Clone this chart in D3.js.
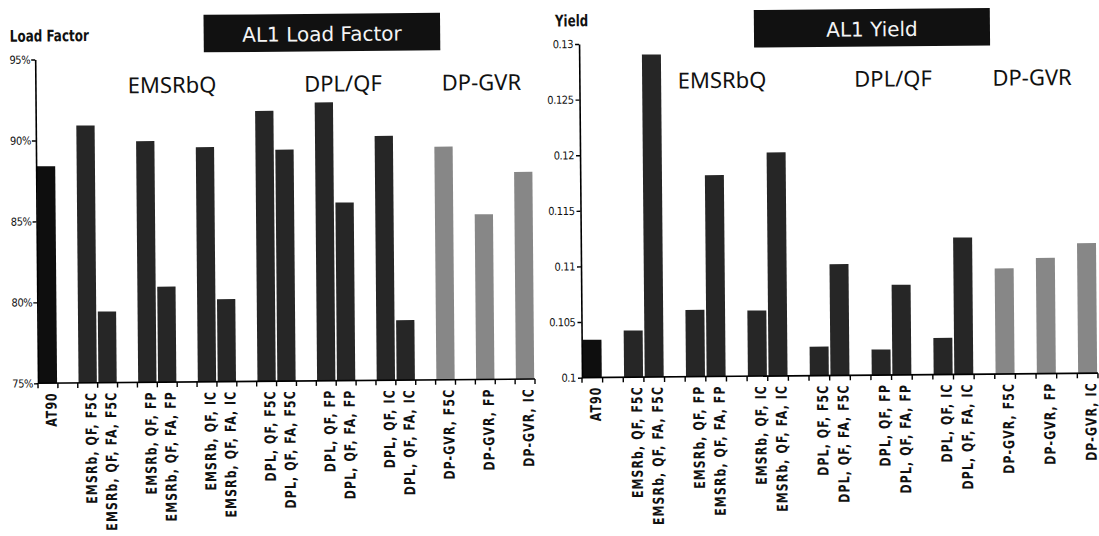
<!DOCTYPE html>
<html>
<head>
<meta charset="utf-8">
<script src="https://cdn.jsdelivr.net/npm/d3@7"></script>
<style>
  html, body { margin: 0; padding: 0; background: #fff; }
  svg { display: block; }
  .tick text { font-family: "Liberation Sans Narrow", "DejaVu Sans Condensed", "Arial Narrow", sans-serif; }
</style>
</head>
<body>
<svg id="chart" width="1099" height="536"></svg>
<script>
// Scenario names, one bar each
const categories = [
  "AT90",
  "EMSRb, QF, F5C", "EMSRb, QF, FA, F5C",
  "EMSRb, QF, FP", "EMSRb, QF, FA, FP",
  "EMSRb, QF, IC", "EMSRb, QF, FA, IC",
  "DPL, QF, F5C", "DPL, QF, FA, F5C",
  "DPL, QF, FP", "DPL, QF, FA, FP",
  "DPL, QF, IC", "DPL, QF, FA, IC",
  "DP-GVR, F5C", "DP-GVR, FP", "DP-GVR, IC"
];
// Bars sharing a cluster id sit side by side; a blank slot separates clusters
const clusterIds = [0, 1, 1, 2, 2, 3, 3, 4, 4, 5, 5, 6, 6, 7, 8, 9];

// Load factor (%) per scenario
const loadFactor = [88.4, 90.9, 79.4, 89.9, 80.9, 89.5, 80.1, 91.7, 89.3, 92.2, 86.0, 90.1, 78.7, 89.4, 85.2, 87.8];
// Yield per scenario
const yieldValues = [0.1034, 0.1042, 0.129, 0.1060, 0.1181, 0.1059, 0.1201, 0.1026, 0.1100, 0.1023, 0.1081, 0.1033, 0.1123, 0.1095, 0.1104, 0.1117];

// Axis ticks
const loadTicks = [95, 90, 85, 80, 75];
const loadTickLabels = ["95%", "90%", "85%", "80%", "75%"];
const yieldTicks = [0.13, 0.125, 0.12, 0.115, 0.11, 0.105, 0.1];
const yieldTickLabels = ["0.13", "0.125", "0.12", "0.115", "0.11", "0.105", "0.1"];

// Method headings above the bars
const methodNames = ["EMSRbQ", "DPL/QF", "DP-GVR"];

// ---------------------------------------------------------------
const svg = d3.select("#chart");

// The whole sheet is tilted very slightly
const sheet = svg.append("g").attr("transform", "rotate(-0.5, 38, 383)");

// Slot domain: insert a blank slot whenever the cluster changes
const slots = [];
categories.forEach((c, i) => {
  if (i > 0 && clusterIds[i] !== clusterIds[i - 1]) slots.push("gap-" + i);
  slots.push(c);
});

function barColor(name) {
  if (name === "AT90") return "#0e0e0e";
  if (name.startsWith("DP-GVR")) return "#878787";
  return "#262626";
}

const narrow = '"Liberation Sans Narrow", "DejaVu Sans Condensed", "Arial Narrow", sans-serif';

function drawPanel(opts) {
  const g = sheet.append("g");
  const x = d3.scaleBand().domain(slots).range(opts.xRange).paddingInner(0.08).paddingOuter(0.04);
  const y = d3.scaleLinear().domain(opts.yDomain).range(opts.yRange);
  const base = opts.yRange[0];

  // bars
  g.selectAll("rect.bar")
    .data(categories.map((c, i) => ({ c, v: opts.values[i] })))
    .join("rect")
    .attr("class", "bar")
    .attr("x", d => x(d.c))
    .attr("width", x.bandwidth())
    .attr("y", d => y(d.v))
    .attr("height", d => base - y(d.v))
    .attr("fill", d => barColor(d.c));

  // y axis
  const labelOf = new Map(opts.ticks.map((t, i) => [t, opts.tickLabels[i]]));
  const ya = g.append("g")
    .attr("transform", `translate(${opts.xRange[0]},0)`)
    .call(d3.axisLeft(y).tickValues(opts.ticks).tickSize(4).tickSizeOuter(0)
      .tickPadding(opts.tickPad).tickFormat(t => labelOf.get(t)));
  ya.select(".domain").attr("stroke", "#000").attr("stroke-width", 1.6);
  ya.selectAll(".tick line").attr("stroke", "#000").attr("stroke-width", 1.4);
  ya.selectAll(".tick text").attr("font-size", 11).attr("fill", "#111")
    .attr("letter-spacing", -0.4);

  // x axis: baseline with ticks on slot boundaries
  const step = x.step();
  const x0 = opts.xRange[0];
  const x1 = opts.xRange[1];
  g.append("line")
    .attr("x1", x0).attr("x2", x1).attr("y1", base).attr("y2", base)
    .attr("stroke", "#000").attr("stroke-width", 1.6);
  g.selectAll("line.xtick")
    .data(d3.range(slots.length + 1))
    .join("line")
    .attr("class", "xtick")
    .attr("x1", i => x0 + i * step).attr("x2", i => x0 + i * step)
    .attr("y1", base).attr("y2", base + 5)
    .attr("stroke", "#000").attr("stroke-width", 1.4);

  // category labels, rotated and squeezed along the reading direction
  const cats = g.selectAll("text.cat")
    .data(categories)
    .join("text")
    .attr("class", "cat")
    .attr("text-anchor", "end")
    .attr("dy", "0.36em")
    .attr("font-family", narrow)
    .attr("font-weight", "bold")
    .attr("font-size", 15)
    .attr("letter-spacing", 1.3)
    .attr("fill", "#111")
    .text(c => c);
  const refNode = cats.filter(c => c === "EMSRb, QF, F5C").node();
  const squeeze = refNode ? 112 / refNode.getComputedTextLength() : 1;
  cats.attr("transform", c =>
    `translate(${x(c) + x.bandwidth() / 2 + 3},${base + 9}) rotate(-90) scale(${squeeze},1)`);

  // axis title
  g.append("text")
    .attr("x", opts.axisTitlePos[0]).attr("y", opts.axisTitlePos[1])
    .attr("font-family", narrow).attr("font-weight", "bold").attr("font-size", 16)
    .attr("fill", "#111")
    .attr("textLength", opts.axisTitleWidth).attr("lengthAdjust", "spacingAndGlyphs")
    .text(opts.axisTitle);

  // title box
  g.append("rect")
    .attr("x", opts.titleBox[0]).attr("y", 16.3)
    .attr("width", opts.titleBox[1] - opts.titleBox[0]).attr("height", 37.5)
    .attr("fill", "#111");
  g.append("text")
    .attr("x", (opts.titleBox[0] + opts.titleBox[1]) / 2).attr("y", 43.6)
    .attr("text-anchor", "middle")
    .attr("font-family", '"DejaVu Sans", sans-serif').attr("font-size", 20)
    .attr("fill", "#f4f4f4")
    .text(opts.title);

  // method headings
  g.selectAll("text.method")
    .data(methodNames)
    .join("text")
    .attr("class", "method")
    .attr("x", (d, i) => opts.methodX[i]).attr("y", 94)
    .attr("text-anchor", "middle")
    .attr("font-family", '"Noto Sans", "Open Sans", sans-serif').attr("font-size", 22)
    .attr("fill", "#111")
    .text(d => d);
}

drawPanel({
  values: loadFactor,
  xRange: [38, 535],
  yDomain: [75, 95],
  yRange: [383.3, 59.5],
  ticks: loadTicks,
  tickLabels: loadTickLabels,
  tickPad: 1,
  axisTitle: "Load Factor",
  axisTitleWidth: 79,
  axisTitlePos: [12.8, 41.5],
  title: "AL1 Load Factor",
  titleBox: [206.7, 443.2],
  methodX: [174.6, 345.6, 484]
});

drawPanel({
  values: yieldValues,
  xRange: [582, 1098],
  yDomain: [0.1, 0.13],
  yRange: [382.4, 48.7],
  ticks: yieldTicks,
  tickLabels: yieldTickLabels,
  tickPad: 2,
  axisTitle: "Yield",
  axisTitleWidth: 33,
  axisTitlePos: [558.2, 31],
  title: "AL1 Yield",
  titleBox: [757, 993],
  methodX: [724.7, 895.7, 1034.7]
});
</script>
</body>
</html>
